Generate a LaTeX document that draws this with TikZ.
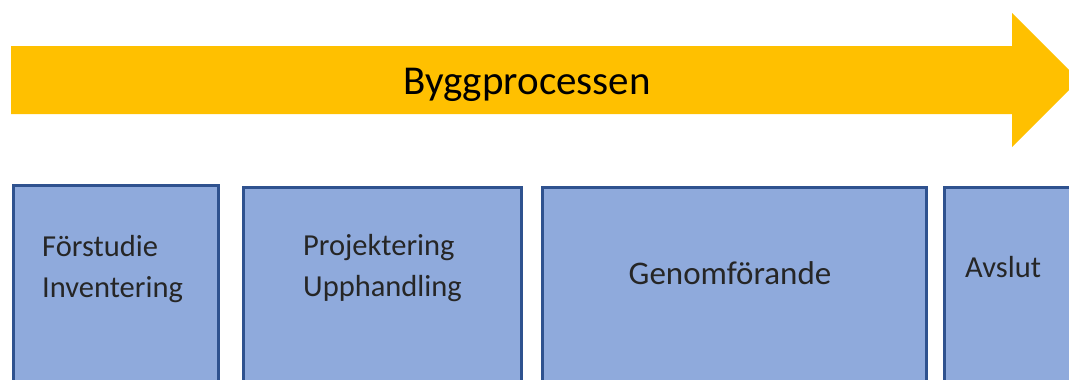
\documentclass[tikz,border=0pt]{standalone}
\usepackage{fontspec}
\setmainfont{Carlito}
\definecolor{arrowfill}{HTML}{FFC000}
\definecolor{boxfill}{HTML}{8FAADC}
\definecolor{boxline}{HTML}{2F528F}
\tikzset{
  phase/.style={draw=boxline, line width=2.6pt, fill=boxfill, rectangle, inner sep=0pt, anchor=north west},
  label/.style={inner sep=0pt, align=left, text=black!85, font={\fontsize{30.5}{41}\selectfont}}
}
\begin{document}
\begin{tikzpicture}[x=1pt,y=-1pt]
\useasboundingbox (0,0) rectangle (1069,380);
\begin{scope}
\clip (0,0) rectangle (1069,380);
\fill[arrowfill] (11,46) -- (1012,46) -- (1012,13) -- (1079,80) -- (1012,147) -- (1012,114) -- (11,114) -- cycle;
\node[phase, minimum width=205pt, minimum height=220pt] (p1) at (12,184) {};
\node[phase, minimum width=278pt, minimum height=220pt] (p2) at (242,186) {};
\node[phase, minimum width=384pt, minimum height=220pt] (p3) at (541,186) {};
\node[phase, minimum width=150pt, minimum height=220pt] (p4) at (943,186) {};
\end{scope}
\node[inner sep=0pt, anchor=base, font={\fontsize{41}{48}\selectfont}] (title) at (527,94) {Byggprocessen};
\node[label, anchor=base west] (t1) at (42,297) {Förstudie\\Inventering};
\node[label, anchor=base west] (t2) at (303,296) {Projektering\\Upphandling};
\node[label, anchor=base, font={\fontsize{33}{40}\selectfont}] (t3) at (730,284) {Genomförande};
\node[label, anchor=base west] (t4) at (965,277) {Avslut};
\end{tikzpicture}
\end{document}
